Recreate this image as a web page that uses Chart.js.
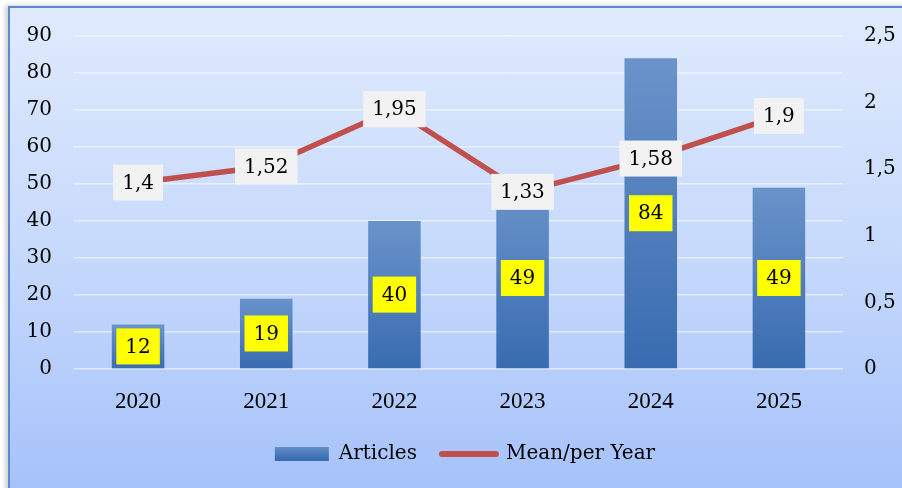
<!DOCTYPE html>
<html>
<head>
<meta charset="utf-8">
<script src="https://cdn.jsdelivr.net/npm/chart.js@4/dist/chart.umd.min.js"></script>
<style>
  html, body { margin: 0; padding: 0; background: #ffffff; overflow: hidden; }
  #frame {
    position: absolute; left: 8px; top: 6px; width: 920px; height: 500px;
    border: 2px solid #5a89cf;
    box-shadow: -3px -1px 4px rgba(0,0,0,0.18);
    background: linear-gradient(to bottom, #dfeafd 0%, #c6d9fc 50%, #a3c0fa 100%);
  }
  #chartCanvas { position: absolute; left: 0; top: 0; }
</style>
</head>
<body>
<div id="frame"></div>
<canvas id="chartCanvas" width="902" height="488"></canvas>
<script>
/* chart data */
var years = ['2020', '2021', '2022', '2023', '2024', '2025'];
var articles = [12, 19, 40, 49, 84, 49];
var meanPerYear = [1.4, 1.52, 1.95, 1.33, 1.58, 1.9];
var leftTicks = [0, 10, 20, 30, 40, 50, 60, 70, 80, 90];
var rightTicks = [0, 0.5, 1, 1.5, 2, 2.5];

var serif = '"DejaVu Serif", serif';
var barTop = '#6a93ca';
var barBottom = '#386bb0';
var lineRed = '#c0504d';

/* decimal comma, like the original */
function fmt(v) {
    return String(v).replace('.', ',');
}

/* bar fill: each bar gets its own vertical gradient */
function barFill(context) {
    var chart = context.chart;
    if (!chart.chartArea || context.type !== 'data') return barBottom;
    var y = chart.scales.y;
    var g = chart.ctx.createLinearGradient(0, y.getPixelForValue(context.raw), 0, y.getPixelForValue(0));
    g.addColorStop(0, barTop);
    g.addColorStop(1, barBottom);
    return g;
}

/* draw the value boxes on top of bars and line points */
var valueLabels = {
    id: 'valueLabels',
    afterDatasetsDraw(chart) {
        var c = chart.ctx;
        c.save();
        c.font = '20px ' + serif;
        c.textAlign = 'center';
        c.textBaseline = 'middle';
        chart.data.datasets.forEach(function (ds, i) {
            var meta = chart.getDatasetMeta(i);
            meta.data.forEach(function (el, j) {
                var text = fmt(ds.data[j]);
                var w = c.measureText(text).width + 18;
                var h = 36;
                var x = el.x;
                var y = ds.type === 'bar' ? (el.y + el.base) / 2 : el.y;
                c.fillStyle = ds.type === 'bar' ? '#ffff00' : '#f2f2f2';
                c.fillRect(x - w / 2, y - h / 2, w, h);
                c.fillStyle = '#000000';
                c.fillText(text, x, y + 1);
            });
        });
        c.restore();
    }
};

/* the legend sits a little right of centre in the original */
var legendShift = {
    id: 'legendShift',
    afterLayout(chart) {
        chart.legend.left += 14;
        chart.legend.right += 14;
    }
};

var ctx = document.getElementById('chartCanvas').getContext('2d');
var chart = new Chart(ctx, {
    type: 'bar',
    data: {
        labels: years,
        datasets: [{
            type: 'bar',
            label: 'Articles',
            data: articles,
            yAxisID: 'y',
            backgroundColor: barFill,
            barPercentage: 0.41,
            categoryPercentage: 1,
            order: 2
        }, {
            type: 'line',
            label: 'Mean/per Year',
            data: meanPerYear,
            yAxisID: 'y1',
            borderColor: lineRed,
            borderWidth: 5.5,
            pointRadius: 0,
            tension: 0,
            order: 1
        }]
    },
    options: {
        responsive: false,
        animation: false,
        layout: { padding: { top: 36, left: 0, right: 0, bottom: 14 } },
        scales: {
            x: {
                grid: { display: false, drawTicks: false },
                border: { display: false },
                ticks: {
                    color: '#000000',
                    padding: 19,
                    font: { family: '"Liberation Serif", serif', size: 23 }
                },
                afterFit: function (scale) { scale.height = 50; }
            },
            y: {
                position: 'left',
                min: 0,
                max: 90,
                afterBuildTicks: function (scale) {
                    scale.ticks = leftTicks.map(function (v) { return { value: v }; });
                },
                grid: { color: 'rgba(255,255,255,0.55)', lineWidth: 1.5, drawTicks: false },
                border: { display: false },
                ticks: {
                    color: '#000000',
                    padding: 22,
                    font: { family: serif, size: 20 }
                },
                afterFit: function (scale) { scale.width = 74; }
            },
            y1: {
                position: 'right',
                min: 0,
                max: 2.5,
                afterBuildTicks: function (scale) {
                    scale.ticks = rightTicks.map(function (v) { return { value: v }; });
                },
                grid: { display: false, drawTicks: false },
                border: { display: false },
                ticks: {
                    color: '#000000',
                    padding: 21,
                    font: { family: serif, size: 20 },
                    callback: function (v) { return fmt(v); }
                },
                afterFit: function (scale) { scale.width = 59; }
            }
        },
        plugins: {
            tooltip: { enabled: false },
            legend: {
                position: 'bottom',
                labels: {
                    color: '#000000',
                    font: { family: serif, size: 20 },
                    usePointStyle: true,
                    pointStyleWidth: 54,
                    boxWidth: 54,
                    boxHeight: 14,
                    padding: 25,
                    generateLabels: function (chart) {
                        var g = chart.ctx.createLinearGradient(0, 445, 0, 459);
                        g.addColorStop(0, barTop);
                        g.addColorStop(1, barBottom);
                        return [{
                            text: 'Articles',
                            fillStyle: g,
                            strokeStyle: 'rgba(0,0,0,0)',
                            lineWidth: 0,
                            pointStyle: 'rect',
                            datasetIndex: 0,
                            fontColor: '#000000'
                        }, {
                            text: 'Mean/per Year',
                            fillStyle: lineRed,
                            strokeStyle: lineRed,
                            lineWidth: 6,
                            lineCap: 'round',
                            pointStyle: 'line',
                            datasetIndex: 1,
                            fontColor: '#000000'
                        }];
                    }
                }
            }
        }
    },
    plugins: [valueLabels, legendShift]
});
</script>
</body>
</html>
